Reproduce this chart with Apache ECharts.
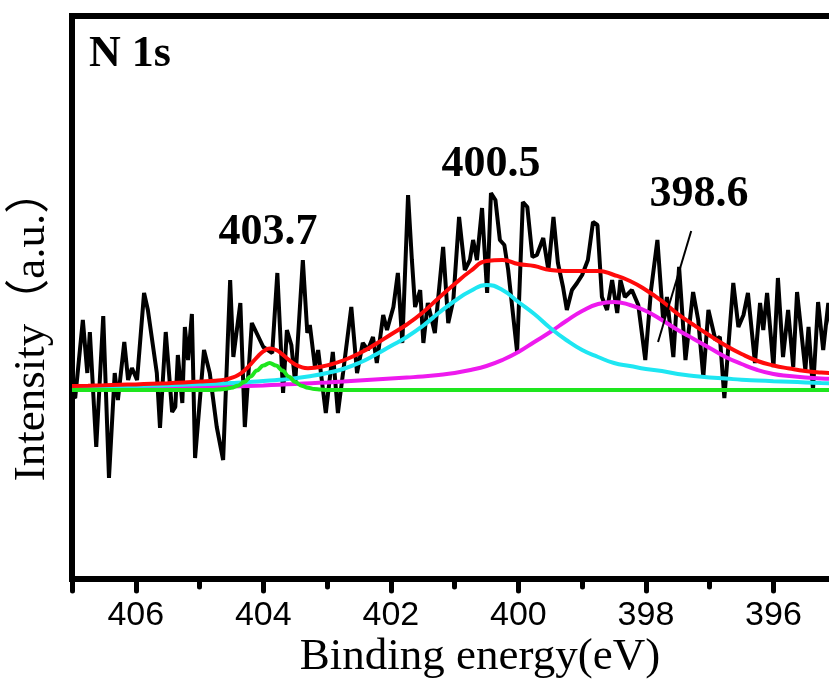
<!DOCTYPE html>
<html>
<head>
<meta charset="utf-8">
<script src="https://cdn.jsdelivr.net/npm/echarts@6/dist/echarts.min.js"></script>
<style>html,body{margin:0;padding:0;background:#fff}#c{width:829px;height:681px}</style>
</head>
<body>
<div id="c"></div>
<script>
// Raw N 1s spectrum (binding energy, eV) and intensity (a.u., baseline = 0)
const energy = [407.00,406.95,406.83,406.76,406.72,406.62,406.51,406.42,406.33,406.28,406.18,406.12,406.06,405.98,405.87,405.81,405.67,405.62,405.53,405.43,405.38,405.34,405.27,405.23,405.18,405.12,405.07,404.93,404.84,404.73,404.63,404.52,404.47,404.36,404.29,404.18,404.00,403.86,403.78,403.69,403.63,403.56,403.50,403.38,403.31,403.27,403.19,403.14,403.02,402.91,402.83,402.75,402.62,402.53,402.44,402.36,402.28,402.22,402.12,402.06,401.96,401.89,401.82,401.73,401.67,401.62,401.54,401.49,401.42,401.31,401.18,401.10,401.02,400.93,400.84,400.76,400.71,400.65,400.57,400.49,400.43,400.36,400.29,400.22,400.16,400.02,399.93,399.86,399.78,399.71,399.61,399.53,399.45,399.38,399.30,399.24,399.16,399.08,399.00,398.91,398.83,398.76,398.69,398.61,398.53,398.45,398.40,398.33,398.22,398.12,398.01,397.92,397.82,397.73,397.67,397.57,397.48,397.38,397.26,397.18,397.10,397.02,396.91,396.84,396.77,396.63,396.55,396.47,396.40,396.29,396.21,396.16,396.10,396.00,395.93,395.85,395.77,395.69,395.63,395.50,395.45,395.38,395.30,395.22,395.14,395.05,394.95,394.85];
const counts = [-5,-8,70,17,58,-57,74,-88,17,-10,48,10,22,10,97,80,17,-38,58,-22,-17,35,-13,63,30,76,-68,40,17,-37,-70,110,33,87,-37,67,43,37,117,-3,60,45,7,130,57,65,23,40,-23,38,-23,17,83,17,47,40,53,27,75,60,83,117,47,195,130,83,100,47,87,57,143,67,90,173,120,130,150,130,182,97,197,190,150,145,120,38,188,183,133,135,152,120,173,127,103,80,100,107,115,130,168,165,93,80,110,77,110,93,100,85,30,100,150,70,93,33,123,30,98,70,13,80,50,53,-8,107,63,75,97,27,87,60,97,23,112,33,80,23,98,20,63,0,88,40,87,40,90,30];

// Fitted components
const fitEnergy = [407,406.75,406.5,406.25,406,405.75,405.5,405.25,405,404.75,404.5,404.25,404,403.75,403.5,403.25,403,402.75,402.5,402.25,402,401.75,401.5,401.25,401,400.75,400.5,400.25,400,399.75,399.5,399.25,399,398.75,398.5,398.25,398,397.75,397.5,397.25,397,396.75,396.5,396.25,396,395.75,395.5,395.25,395,394.75];
const peak400 = [3,3.2,3.5,3.8,4,4.4,4.8,5.3,5.8,6.3,7,7.8,9,10.2,11.7,14,17,21,27,35,44,53,64,77,89,99,105,100,88,76,62,50,40,33,27,24,21,19,16,14,12.5,11.5,10.2,9.5,8.8,8.2,7.6,7,6.5,6.2];
const peak398 = [1,1.1,1.2,1.4,1.6,1.8,2,2.3,2.6,3,3.4,4,4.6,5.3,6,6.8,7.6,8.5,9.5,10.5,11.5,12.5,13.5,15,17,20,24,30,38,48,58,69,79,86,88,85,79,70,60,51,42,33,26,20,16,14,12.5,11.5,11,10.5];
const peak403Energy = [407,404.8,404.7,404.6,404.5,404.4,404.3,404.2,404.1,404.0,403.9,403.8,403.7,403.6,403.5,403.4,403.3,403.2,403.1,403.0,394];
const peak403 = [0,0,0.4,1.0,2.2,4.3,8,13.5,19.5,24.5,27,24.5,19.5,13.5,8,4.3,2.2,1.0,0.4,0,0];
const envEnergy = [407,406.75,406.5,406.25,406,405.75,405.5,405.25,405,404.75,404.6,404.5,404.4,404.3,404.2,404.1,404.0,403.9,403.8,403.7,403.6,403.5,403.4,403.3,403.2,403.0,402.75,402.5,402.25,402,401.75,401.5,401.25,401,400.75,400.5,400.25,400,399.75,399.5,399.25,399,398.75,398.5,398.25,398,397.75,397.5,397.25,397,396.75,396.5,396.25,396,395.75,395.5,395.25,395,394.75];
const envelope = [4,4.3,4.7,5.2,5.6,6.2,6.8,7.6,8.4,9.3,10.4,12.1,14.8,19.3,25.7,32.7,38.6,41.4,40,35.6,30.1,25.6,22.8,21.8,22.2,24.6,29.5,36.5,45.5,55.5,65.5,77.5,92,106,119,129,130,126,124,120,119,119,119,115,109,100,89,76,65,54.5,44.5,36,29,24.5,21.5,19,17.5,16.5,16];

// Leader line for the 398.6 label
const leaderEnergy = [397.29, 397.81];
const leaderValue = [159, 48];

// Axis
const xMin = 394, xMax = 407;
const yMin = -189, yMax = 374;
const peakLabels = ['403.7', '400.5', '398.6'];

const zip = (xs, ys) => xs.map((x, i) => [x, ys[i]]);
const serif = '"Liberation Serif","Times New Roman",serif';

const chart = echarts.init(document.getElementById('c'), null, {renderer: 'canvas'});
chart.setOption({
  animation: false,
  backgroundColor: '#fff',
  grid: {left: 72, right: -72, top: 16, bottom: 102, containLabel: false, outerBoundsMode: 'none',
    show: true, borderColor: '#000', borderWidth: 6, backgroundColor: 'transparent'},
  xAxis: [{
    type: 'value', inverse: true, min: xMin, max: xMax, interval: 2,
    axisLine: {show: true, onZero: false, lineStyle: {color: '#000', width: 6}},
    axisTick: {show: true, length: 12, lineStyle: {color: '#000', width: 5, cap: 'round'}},
    axisLabel: {margin: 20, color: '#000', fontSize: 34, fontFamily: '"Liberation Sans",Arial,sans-serif',
      formatter: v => (v % 2 === 0 ? String(v) : '')},
    splitLine: {show: false}
  }, {
    type: 'value', inverse: true, min: xMin, max: xMax, interval: 1, position: 'bottom',
    axisLine: {show: false, onZero: false},
    axisTick: {show: true, length: 8, lineStyle: {color: '#000', width: 5, cap: 'round'}},
    axisLabel: {show: false}, splitLine: {show: false}
  }],
  yAxis: {
    type: 'value', min: yMin, max: yMax,
    axisLine: {show: true, onZero: false, lineStyle: {color: '#000', width: 6}},
    axisTick: {show: false}, axisLabel: {show: false}, splitLine: {show: false}
  },
  series: [
    {type: 'line', xAxisIndex: 0, data: zip(energy, counts), showSymbol: false, smooth: false,
      lineStyle: {color: '#000', width: 4}},
    {type: 'line', xAxisIndex: 0, data: zip(fitEnergy, peak398), showSymbol: false, smooth: true,
      lineStyle: {color: '#ee1aee', width: 4}},
    {type: 'line', xAxisIndex: 0, data: zip(fitEnergy, peak400), showSymbol: false, smooth: true,
      lineStyle: {color: '#1ee6f2', width: 4}},
    {type: 'line', xAxisIndex: 0, data: zip(envEnergy, envelope), showSymbol: false, smooth: true,
      lineStyle: {color: '#ff0a0a', width: 4}},
    {type: 'line', xAxisIndex: 0, data: zip(peak403Energy, peak403), showSymbol: false, smooth: 0.4, smoothMonotone: 'x',
      lineStyle: {color: '#1ee61e', width: 4}},
    {type: 'line', xAxisIndex: 0, data: zip(leaderEnergy, leaderValue), showSymbol: false,
      lineStyle: {color: '#000', width: 2}}
  ],
  graphic: [
    {type: 'text', x: 130, y: 55, z: 100, style: {text: 'N 1s', font: 'bold 44px ' + serif, fill: '#000', align: 'center', verticalAlign: 'middle'}},
    {type: 'text', x: 268, y: 233, z: 100, style: {text: peakLabels[0], font: 'bold 44px ' + serif, fill: '#000', align: 'center', verticalAlign: 'middle'}},
    {type: 'text', x: 491, y: 165, z: 100, style: {text: peakLabels[1], font: 'bold 44px ' + serif, fill: '#000', align: 'center', verticalAlign: 'middle'}},
    {type: 'text', x: 699, y: 195, z: 100, style: {text: peakLabels[2], font: 'bold 44px ' + serif, fill: '#000', align: 'center', verticalAlign: 'middle'}},
    {type: 'text', x: 480, y: 657, z: 100, style: {text: 'Binding energy(eV)', font: '45px ' + serif, fill: '#000', align: 'center', verticalAlign: 'middle'}},
    {type: 'text', x: 32, y: 325, rotation: Math.PI / 2, z: 100, style: {text: 'Intensity（a.u.）', font: '45px ' + serif + ',"Noto Sans CJK SC"', fill: '#000', align: 'center', verticalAlign: 'middle'}}
  ]
});
</script>
</body>
</html>
